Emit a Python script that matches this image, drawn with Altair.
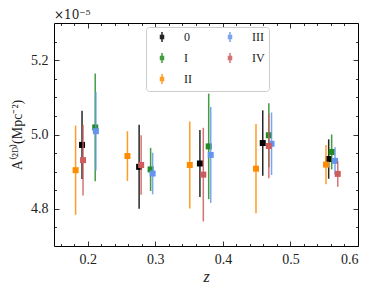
import altair as alt
import pandas as pd

series = ["0", "I", "II", "III", "IV"]
colors = {"0": "#000000", "I": "#228b22", "II": "#ff8c00", "III": "#6495ed", "IV": "#cd5c5c"}

z_vals = {
    "0":   [0.1915, 0.276, 0.366, 0.459, 0.5566],
    "I":   [0.211, 0.293, 0.379, 0.468, 0.561],
    "II":  [0.182, 0.2587, 0.351, 0.449, 0.5526],
    "III": [0.212, 0.296, 0.382, 0.472, 0.566],
    "IV":  [0.193, 0.279, 0.371, 0.468, 0.570],
}
a_vals = {
    "0":   [4.972, 4.913, 4.922, 4.977, 4.934],
    "I":   [5.019, 4.906, 4.968, 4.998, 4.953],
    "II":  [4.904, 4.942, 4.918, 4.908, 4.919],
    "III": [5.009, 4.895, 4.945, 4.975, 4.929],
    "IV":  [4.931, 4.918, 4.892, 4.969, 4.894],
}
e_vals = {
    "0":   [0.092, 0.113, 0.090, 0.088, 0.053],
    "I":   [0.145, 0.058, 0.142, 0.086, 0.047],
    "II":  [0.120, 0.067, 0.117, 0.120, 0.053],
    "III": [0.106, 0.056, 0.129, 0.084, 0.037],
    "IV":  [0.095, 0.080, 0.126, 0.087, 0.035],
}

x_major = [0.2, 0.3, 0.4, 0.5, 0.6]
x_minor = [0.16, 0.18, 0.22, 0.24, 0.26, 0.28, 0.32, 0.34, 0.36, 0.38,
           0.42, 0.44, 0.46, 0.48, 0.52, 0.54, 0.56, 0.58]
y_major = [4.8, 5.0, 5.2]
y_minor = [4.75, 4.85, 4.9, 4.95, 5.05, 5.1, 5.15, 5.25]

W, H = 304, 223
FONT = "Liberation Serif"

xscale = alt.Scale(domain=[0.15, 0.6], nice=False, zero=False)
yscale = alt.Scale(domain=[4.7, 5.3], nice=False, zero=False)
cscale = alt.Scale(domain=series, range=[colors[s] for s in series])

common = dict(domain=False, grid=False, title=None, tickColor="black", tickWidth=0.8)
x_axes = [
    alt.Axis(orient="bottom", values=x_major, format=".1f", ticks=False, domain=False,
             grid=False, labelPadding=6, labelFontSize=14, labelFont=FONT,
             labelColor="#222", title="z", titleFontStyle="italic", titleFont=FONT,
             titleFontSize=16, titleFontWeight="normal", titlePadding=2, titleColor="#222"),
    alt.Axis(orient="top", offset=-H, values=x_major, labels=False, tickSize=5, **common),
    alt.Axis(orient="top", offset=-H, values=x_minor, labels=False, tickSize=2.5, **common),
    alt.Axis(orient="bottom", offset=-H, values=x_major, labels=False, tickSize=5, **common),
    alt.Axis(orient="bottom", offset=-H, values=x_minor, labels=False, tickSize=2.5, **common),
]
y_axes = [
    alt.Axis(orient="left", values=y_major, format=".1f", ticks=False, domain=False,
             grid=False, labelPadding=6, labelFontSize=14, labelFont=FONT,
             labelColor="#222", title="A⁽²ᴰ⁾(Mpc⁻²)", titleFont=FONT, titleFontSize=14,
             titleFontWeight="normal", titlePadding=6, titleColor="#222"),
    alt.Axis(orient="right", offset=-W, values=y_major, labels=False, tickSize=5, **common),
    alt.Axis(orient="right", offset=-W, values=y_minor, labels=False, tickSize=2.5, **common),
    alt.Axis(orient="left", offset=-W, values=y_major, labels=False, tickSize=5, **common),
    alt.Axis(orient="left", offset=-W, values=y_minor, labels=False, tickSize=2.5, **common),
]

legend = alt.Legend(
    title=None, orient="none", legendX=92, legendY=4, columns=2,
    symbolType="M-0.3,-0.3H0.3V0.3H-0.3Z M0,-1V-0.3 M0,0.3V1",
    symbolSize=100, symbolStrokeWidth=1.5, symbolOffset=6,
    labelFont=FONT, labelFontSize=12, labelOffset=16, labelColor="#222",
    columnPadding=26, rowPadding=5, padding=4,
    fillColor="white", strokeColor="#cccccc", cornerRadius=3,
)

layers = []
for i, s in enumerate(series):
    df = pd.DataFrame({
        "z": z_vals[s],
        "a": a_vals[s],
        "lo": [a - e for a, e in zip(a_vals[s], e_vals[s])],
        "hi": [a + e for a, e in zip(a_vals[s], e_vals[s])],
        "series": s,
    })
    rule = alt.Chart(df).mark_rule(strokeWidth=1.5, opacity=0.85).encode(
        x=alt.X("z:Q", scale=xscale, axis=x_axes[i]),
        y=alt.Y("lo:Q", scale=yscale, axis=y_axes[i]),
        y2="hi:Q",
        stroke=alt.Stroke("series:N", scale=cscale, legend=legend),
    )
    pts = alt.Chart(df).mark_point(shape="square", filled=True, size=36, opacity=1).encode(
        x=alt.X("z:Q", scale=xscale, axis=None),
        y=alt.Y("a:Q", scale=yscale, axis=None),
        fill=alt.Fill("series:N", scale=cscale, legend=legend),
    )
    layers += [rule, pts]

chart = alt.layer(*layers).resolve_axis(x="independent", y="independent").properties(
    width=W, height=H,
    autosize=alt.AutoSizeParams(type="none"),
    padding={"left": 46, "top": 15, "right": 8, "bottom": 42},
    title=alt.TitleParams("×10⁻⁵", anchor="start", frame="group", font="DejaVu Serif",
                          fontSize=12, fontWeight="normal", color="#222", offset=1),
).configure_view(stroke="black", strokeWidth=1)

chart.save("out.html", embed_options={"renderer": "svg", "actions": False})
